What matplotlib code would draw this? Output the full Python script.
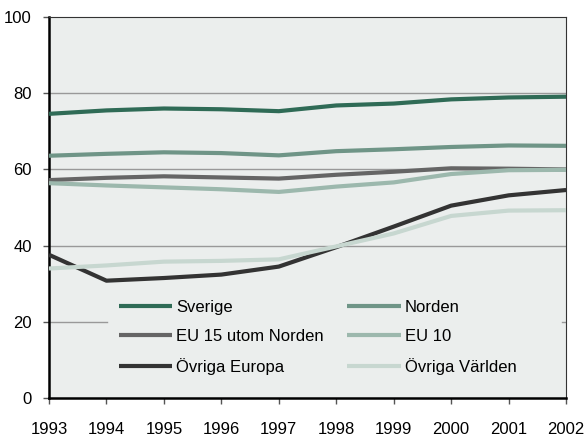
import matplotlib
matplotlib.use('Agg')
import matplotlib.pyplot as plt

plt.rcParams['font.family'] = ['Liberation Sans', 'DejaVu Sans']

years = [1993, 1994, 1995, 1996, 1997, 1998, 1999, 2000, 2001, 2002]

sverige = [74.6, 75.5, 76.0, 75.8, 75.3, 76.8, 77.3, 78.4, 78.9, 79.1]
norden = [63.6, 64.1, 64.5, 64.3, 63.7, 64.8, 65.3, 65.9, 66.3, 66.2]
eu15 = [57.2, 57.8, 58.2, 57.9, 57.6, 58.6, 59.4, 60.3, 60.2, 60.0]
eu10 = [56.4, 55.8, 55.3, 54.8, 54.1, 55.5, 56.6, 58.8, 59.8, 59.9]
ovr_europa = [37.6, 30.8, 31.5, 32.4, 34.5, 39.6, 45.0, 50.5, 53.2, 54.6]
ovr_varlden = [34.0, 34.8, 35.8, 36.0, 36.4, 39.8, 43.2, 47.8, 49.2, 49.3]

labels = ['Sverige', 'Norden', 'EU 15 utom Norden', 'EU 10', 'Övriga Europa', 'Övriga Världen']
colors = ['#2f6b56', '#6f9587', '#656565', '#9cb8ad', '#333333', '#c7d7d0']
series = [sverige, norden, eu15, eu10, ovr_europa, ovr_varlden]

fig = plt.figure(figsize=(5.86, 4.38), dpi=100)
ax = fig.add_axes([0.0836, 0.0913, 0.8824, 0.8697])
ax.set_facecolor('#ebeeed')

# gridlines (the one at 20 is hidden behind the legend)
for g in [40, 60, 80]:
    ax.axhline(g, color='#999999', lw=1, zorder=1)
ax.axhline(20, xmax=0.112, color='#999999', lw=1, zorder=1)
ax.axhline(20, xmin=0.992, color='#999999', lw=1, zorder=1)

lines = {}
for lab, col, ys in zip(labels, colors, series):
    lines[lab], = ax.plot(years, ys, color=col, lw=3, solid_capstyle='butt',
                          solid_joinstyle='round', zorder=3, label=lab)

order = ['Sverige', 'EU 15 utom Norden', 'Övriga Europa', 'Norden', 'EU 10', 'Övriga Världen']
leg = ax.legend([lines[o] for o in order], order, ncol=2, frameon=False,
                loc='center left', bbox_to_anchor=(0.135, 0.16),
                fontsize=12, handlelength=3.2, handletextpad=0.25,
                labelspacing=0.84, columnspacing=1.4, borderaxespad=0,
                borderpad=0)

ax.set_xlim(1993, 2002)
ax.set_ylim(0, 100)
ax.set_xticks(years)
ax.set_yticks([0, 20, 40, 60, 80, 100])
ax.tick_params(axis='both', labelsize=12, color='#555555')
ax.tick_params(axis='y', length=4.5, width=1, pad=8)
ax.tick_params(axis='x', length=4, width=1, pad=13)

ax.spines['left'].set_linewidth(1.8)
ax.spines['bottom'].set_linewidth(1.8)
ax.spines['left'].set_color('black')
ax.spines['bottom'].set_color('black')
ax.spines['top'].set_color('#333333')
ax.spines['right'].set_color('#333333')
ax.spines['top'].set_linewidth(0.8)
ax.spines['right'].set_linewidth(0.8)

fig.savefig('out.png', dpi=100)
